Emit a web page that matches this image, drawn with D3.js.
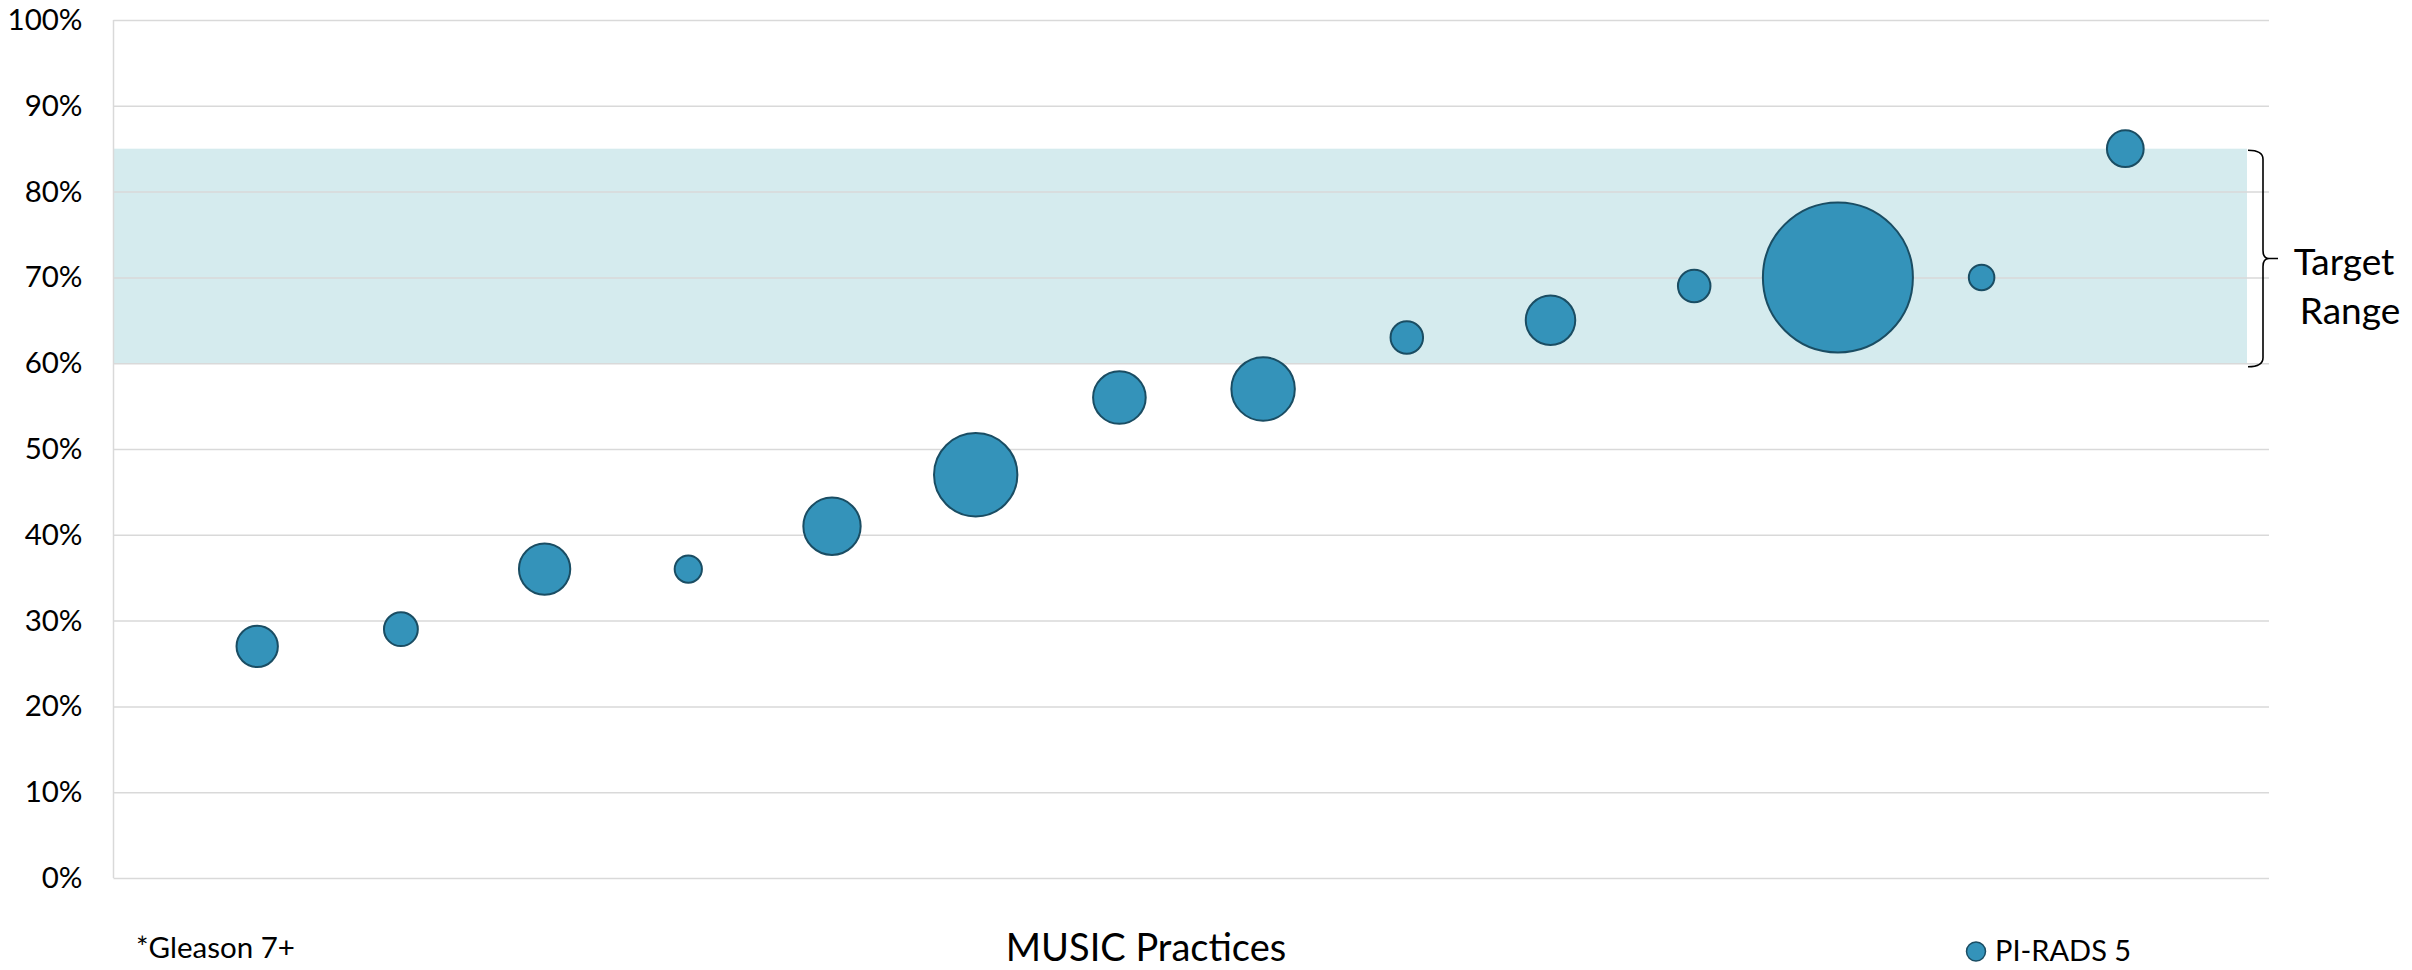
<!DOCTYPE html>
<html>
<head>
<meta charset="utf-8">
<script src="https://cdn.jsdelivr.net/npm/d3@7/dist/d3.min.js"></script>
<style>
  html, body { margin: 0; padding: 0; background: #fff; }
  svg { display: block; }
  text { font-family: Lato, "Open Sans", sans-serif; fill: #000; }
</style>
</head>
<body>
<svg id="chart" width="2412" height="970"></svg>
<script>
// Practices along the x axis (1..14)
const practices = [1, 2, 3, 4, 5, 6, 7, 8, 9, 10, 11, 12, 13, 14];
// Share of PI-RADS 5 lesions with Gleason 7+ per practice
const detectionRate = [0.27, 0.29, 0.36, 0.36, 0.41, 0.47, 0.56, 0.57, 0.63, 0.65, 0.69, 0.70, 0.70, 0.85];
// Relative volume per practice (bubble area)
const practiceVolume = [76, 51, 117, 33, 146, 309, 123, 179, 47, 109, 47, 1000, 29, 60];
// Y axis ticks
const yTicks = [0, 0.1, 0.2, 0.3, 0.4, 0.5, 0.6, 0.7, 0.8, 0.9, 1.0];
// Target band
const targetRange = [0.60, 0.85];
const targetLabel = ["Target", "Range"];
const seriesName = "PI-RADS 5";
const xTitle = "MUSIC Practices";
const footnote = "*Gleason 7+";

const svg = d3.select("#chart");

const plot = { left: 113.5, right: 2269, top: 20, bottom: 878 };
const bandRight = 2247;

const x = d3.scaleLinear().domain([0, 15]).range([plot.left, plot.right]);
const y = d3.scaleLinear().domain([0, 1]).range([plot.bottom, plot.top]);
const r = d3.scaleSqrt().domain([0, 1000]).range([0, 75]);

const fill = "#3493BA";
const edge = "#1A4D63";

// target band
svg.append("rect")
  .attr("x", plot.left)
  .attr("y", y(targetRange[1]))
  .attr("width", bandRight - plot.left)
  .attr("height", y(targetRange[0]) - y(targetRange[1]))
  .attr("fill", "#D5EBEE");

// gridlines + labels
const yAxis = d3.axisLeft(y)
  .tickValues(yTicks)
  .tickSize(-(plot.right - plot.left))
  .tickPadding(31)
  .tickFormat(d3.format(".0%"));

const gy = svg.append("g")
  .attr("transform", `translate(${plot.left},0)`)
  .call(yAxis);
gy.select(".domain").remove();
gy.selectAll(".tick line").attr("stroke", "#D9D9D9").attr("stroke-width", 1.5);
gy.selectAll(".tick text")
  .attr("font-size", 29.5)
  .attr("font-family", "Lato, sans-serif")
  .attr("fill", "#000");

// left axis line
svg.append("line")
  .attr("x1", plot.left).attr("x2", plot.left)
  .attr("y1", y(1)).attr("y2", y(0))
  .attr("stroke", "#D9D9D9").attr("stroke-width", 1.5);

// bubbles
svg.append("g")
  .selectAll("circle")
  .data(practices.map((p, i) => ({ p, v: detectionRate[i], s: practiceVolume[i] })))
  .join("circle")
  .attr("cx", d => x(d.p))
  .attr("cy", d => y(d.v))
  .attr("r", d => r(d.s))
  .attr("fill", fill)
  .attr("stroke", edge)
  .attr("stroke-width", 2);

// brace marking the target range
const bt = y(targetRange[1]) + 1.5, bb = y(targetRange[0]) + 3.5, bm = (bt + bb) / 2;
const bx0 = bandRight + 1, bx1 = 2263, tip = 2278;
svg.append("path")
  .attr("d", `M${bx0},${bt} Q${bx1},${bt} ${bx1},${bt + 9} L${bx1},${bm - 8} Q${bx1},${bm} ${bx1 + 6},${bm} L${tip},${bm} M${bx1 + 6},${bm} Q${bx1},${bm} ${bx1},${bm + 8} L${bx1},${bb - 9} Q${bx1},${bb} ${bx0},${bb}`)
  .attr("fill", "none")
  .attr("stroke", "#000")
  .attr("stroke-width", 1.6);

svg.append("text")
  .attr("x", 2344).attr("y", 275)
  .attr("text-anchor", "middle")
  .attr("font-size", 37)
  .text(targetLabel[0]);
svg.append("text")
  .attr("x", 2350).attr("y", 324)
  .attr("text-anchor", "middle")
  .attr("font-size", 37)
  .text(targetLabel[1]);

// x axis title
svg.append("text")
  .attr("x", 1146).attr("y", 961)
  .attr("text-anchor", "middle")
  .attr("font-size", 38)
  .text(xTitle);

// footnote
svg.append("text")
  .attr("x", 136).attr("y", 958)
  .attr("font-size", 29.5)
  .text(footnote);

// legend
svg.append("circle")
  .attr("cx", 1976).attr("cy", 951.5)
  .attr("r", 9.5)
  .attr("fill", fill)
  .attr("stroke", edge)
  .attr("stroke-width", 1.5);
svg.append("text")
  .attr("x", 1995).attr("y", 961)
  .attr("font-size", 29)
  .text(seriesName);
</script>
</body>
</html>
